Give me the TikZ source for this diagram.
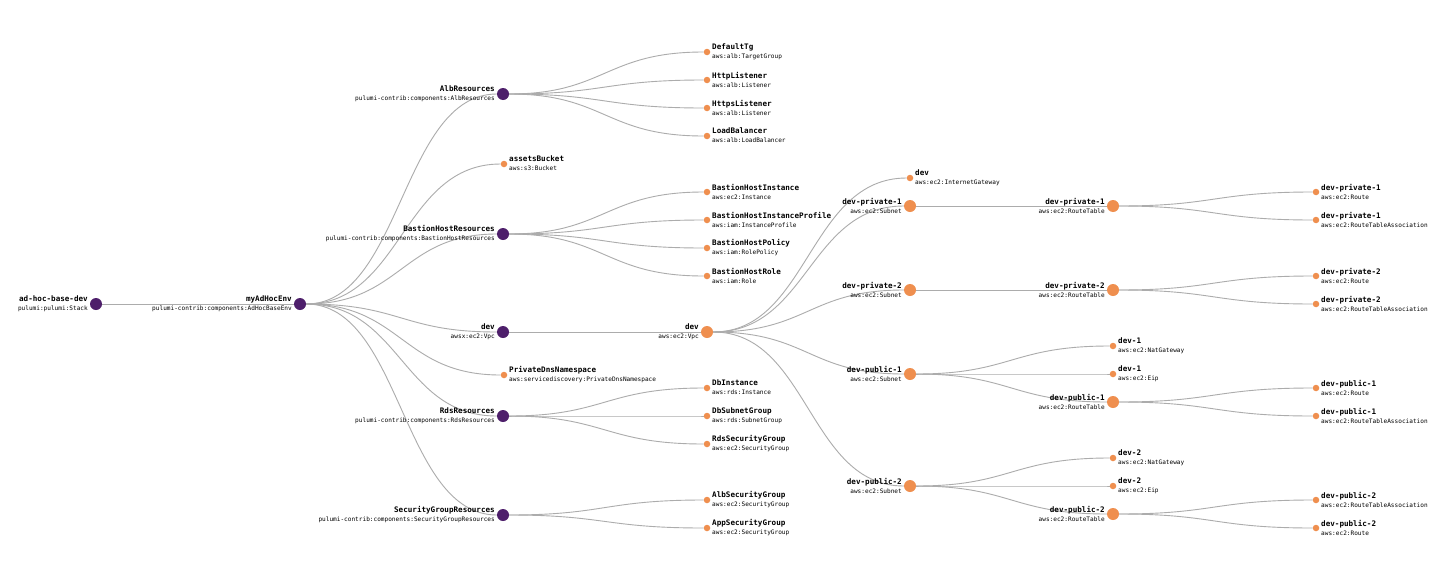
\documentclass[tikz,border=0pt]{standalone}
\usepackage{fontspec}
\newfontfamily\devmono{DejaVu Sans Mono}
\usetikzlibrary{calc, backgrounds}
\definecolor{comppurple}{RGB}{78,31,107}
\definecolor{resorange}{RGB}{239,143,79}
\definecolor{linkgray}{RGB}{172,172,172}
\newcommand{\restitle}[1]{{\fontsize{7.6}{7}\selectfont\bfseries #1}}

\begin{document}
\begin{tikzpicture}[x=1pt, y=-1pt,
    comp/.style={circle, fill=comppurple, inner sep=0pt, minimum size=12pt},
    big/.style={circle, fill=resorange, inner sep=0pt, minimum size=12pt},
    leaf/.style={circle, fill=resorange, inner sep=0pt, minimum size=6.5pt},
    lbl/.style={inner sep=0pt, font=\devmono\fontsize{6.1}{7}\selectfont},
    lblleft/.style={lbl, align=right, anchor=east, xshift=-8pt, yshift=0.5pt},
    lblright/.style={lbl, align=left, anchor=west, xshift=5pt, yshift=0.5pt},
    link/.style={linkgray, line width=0.9pt,
        to path={let \p1=(\tikztostart), \p2=(\tikztotarget) in
            .. controls ({(\x1+\x2)/2},\y1) and ({(\x1+\x2)/2},\y2) .. (\tikztotarget)}}]
    \useasboundingbox (0,0) rectangle (1456,576);

    % Component resources (text on the left)
    \foreach \n/\x/\y/\t/\s in {
        stack/96/304/ad-hoc-base-dev/pulumi:pulumi:Stack,
        env/300/304/myAdHocEnv/pulumi-contrib:components:AdHocBaseEnv,
        alb/503/94/AlbResources/pulumi-contrib:components:AlbResources,
        bastion/503/234/BastionHostResources/pulumi-contrib:components:BastionHostResources,
        awsx/503/332/dev/awsx:ec2:Vpc,
        rds/503/416/RdsResources/pulumi-contrib:components:RdsResources,
        sg/503/515/SecurityGroupResources/pulumi-contrib:components:SecurityGroupResources} {
        \node[comp] (\n) at (\x,\y) {};
        \node[lblleft] (\n-t) at (\n) {\restitle{\t}\\[2pt]\s};
    }

    % Resources with children (text on the left)
    \foreach \n/\x/\y/\t/\s in {
        vpc/707/332/dev/aws:ec2:Vpc,
        snpr1/910/206/dev-private-1/aws:ec2:Subnet,
        snpr2/910/290/dev-private-2/aws:ec2:Subnet,
        snpu1/910/374/dev-public-1/aws:ec2:Subnet,
        snpu2/910/486/dev-public-2/aws:ec2:Subnet,
        rtpr1/1113/206/dev-private-1/aws:ec2:RouteTable,
        rtpr2/1113/290/dev-private-2/aws:ec2:RouteTable,
        rtpu1/1113/402/dev-public-1/aws:ec2:RouteTable,
        rtpu2/1113/514/dev-public-2/aws:ec2:RouteTable} {
        \node[big] (\n) at (\x,\y) {};
        \node[lblleft] (\n-t) at (\n) {\restitle{\t}\\[2pt]\s};
    }

    % Leaf resources (text on the right)
    \foreach \n/\x/\y/\t/\s in {
        bucket/504/164/assetsBucket/aws:s3:Bucket,
        dns/504/375/PrivateDnsNamespace/aws:servicediscovery:PrivateDnsNamespace,
        tg/707/52/DefaultTg/aws:alb:TargetGroup,
        http/707/80/HttpListener/aws:alb:Listener,
        https/707/108/HttpsListener/aws:alb:Listener,
        lb/707/136/LoadBalancer/aws:alb:LoadBalancer,
        bhi/707/192/BastionHostInstance/aws:ec2:Instance,
        bhip/707/220/BastionHostInstanceProfile/aws:iam:InstanceProfile,
        bhp/707/248/BastionHostPolicy/aws:iam:RolePolicy,
        bhr/707/276/BastionHostRole/aws:iam:Role,
        dbi/707/388/DbInstance/aws:rds:Instance,
        dbs/707/416/DbSubnetGroup/aws:rds:SubnetGroup,
        rdssg/707/444/RdsSecurityGroup/aws:ec2:SecurityGroup,
        albsg/707/500/AlbSecurityGroup/aws:ec2:SecurityGroup,
        appsg/707/528/AppSecurityGroup/aws:ec2:SecurityGroup,
        igw/910/178/dev/aws:ec2:InternetGateway,
        nat1/1113/346/dev-1/aws:ec2:NatGateway,
        eip1/1113/374/dev-1/aws:ec2:Eip,
        nat2/1113/458/dev-2/aws:ec2:NatGateway,
        eip2/1113/486/dev-2/aws:ec2:Eip,
        rpr1/1316/192/dev-private-1/aws:ec2:Route,
        rtapr1/1316/220/dev-private-1/aws:ec2:RouteTableAssociation,
        rpr2/1316/276/dev-private-2/aws:ec2:Route,
        rtapr2/1316/304/dev-private-2/aws:ec2:RouteTableAssociation,
        rpu1/1316/388/dev-public-1/aws:ec2:Route,
        rtapu1/1316/416/dev-public-1/aws:ec2:RouteTableAssociation,
        rtapu2/1316/500/dev-public-2/aws:ec2:RouteTableAssociation,
        rpu2/1316/528/dev-public-2/aws:ec2:Route} {
        \node[leaf] (\n) at (\x,\y) {};
        \node[lblright] (\n-t) at (\n) {\restitle{\t}\\[2pt]\s};
    }

    % Links, behind the circles
    \begin{scope}[on background layer]
        \fill[white] (0,0) rectangle (1456,576);
        \foreach \a/\b in {stack/env, env/alb, env/bucket, env/bastion, env/awsx,
            env/dns, env/rds, env/sg, alb/tg, alb/http, alb/https, alb/lb,
            bastion/bhi, bastion/bhip, bastion/bhp, bastion/bhr, awsx/vpc,
            rds/dbi, rds/dbs, rds/rdssg, sg/albsg, sg/appsg,
            vpc/igw, vpc/snpr1, vpc/snpr2, vpc/snpu1, vpc/snpu2,
            snpr1/rtpr1, snpr2/rtpr2, snpu1/nat1, snpu1/eip1, snpu1/rtpu1,
            snpu2/nat2, snpu2/eip2, snpu2/rtpu2,
            rtpr1/rpr1, rtpr1/rtapr1, rtpr2/rpr2, rtpr2/rtapr2,
            rtpu1/rpu1, rtpu1/rtapu1, rtpu2/rtapu2, rtpu2/rpu2}
            \draw[link] (\a) to (\b);
    \end{scope}
\end{tikzpicture}
\end{document}
